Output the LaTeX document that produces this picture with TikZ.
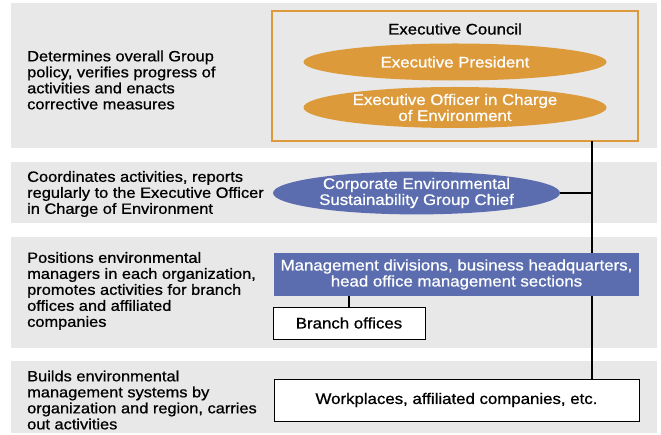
\documentclass[tikz,border=0pt]{standalone}
\usepackage{fontspec}
\setmainfont{Liberation Sans}[FakeBold=0.8, FakeStretch=1.1]
\usetikzlibrary{shapes.geometric}
\definecolor{bandgray}{HTML}{E8E8E8}
\definecolor{orng}{HTML}{DC9A3A}
\definecolor{blu}{HTML}{5B6DAE}
\tikzset{
  band/.style={fill=bandgray, draw=none},
  lefttext/.style={anchor=west, align=left, inner sep=0pt, font=\fontsize{14.9}{16}\selectfont},
  txt/.style={font=\fontsize{15.3}{16}\selectfont},
  oval/.style={ellipse, inner sep=0pt, text=white, align=center, txt},
  whitebox/.style={draw=black, line width=0.8pt, fill=white, inner sep=0pt, txt},
  conn/.style={line width=1.6pt, black}
}
\begin{document}
\begin{tikzpicture}[x=1pt,y=-1pt]
\useasboundingbox (0,0) rectangle (661,435);
% bands
\fill[band] (11,3) rectangle (657,148);
\fill[band] (11,162) rectangle (657,223);
\fill[band] (11,237) rectangle (657,348);
\fill[band] (11,361) rectangle (657,433);
% left texts
\node[lefttext] (t1) at (27,80) {Determines overall Group\\policy, verifies progress of\\activities and enacts\\corrective measures};
\node[lefttext] (t2) at (27,194) {Coordinates activities, reports\\regularly to the Executive Officer\\in Charge of Environment};
\node[lefttext] (t3) at (27,291) {Positions environmental\\managers in each organization,\\promotes activities for branch\\offices and affiliated\\companies};
\node[lefttext] (t4) at (27,400) {Builds environmental\\management systems by\\organization and region, carries\\out activities};
% executive council box
\node[draw=orng, line width=1.2pt, minimum width=366pt, minimum height=130pt, inner sep=0pt] (council) at (455,76) {};
\node[txt] (ctitle) at (455,29) {Executive Council};
\node[oval, fill=orng, minimum width=303pt, minimum height=37pt] (pres) at (455,62) {Executive President};
\node[oval, fill=orng, minimum width=303pt, minimum height=41pt] (eo) at (455,107.5) {Executive Officer in Charge\\of Environment};
% blue ellipse
\node[oval, fill=blu, minimum width=287pt, minimum height=40pt] (chief) at (416.5,193) {Corporate Environmental\\Sustainability Group Chief};
% management divisions
\node[fill=blu, text=white, align=center, inner sep=0pt, minimum width=365pt, minimum height=43pt, txt] (mgmt) at (456.5,274.5) {Management divisions, business headquarters,\\head office management sections};
\node[whitebox, minimum width=152pt, minimum height=32pt] (branch) at (349,323) {Branch offices};
\node[whitebox, minimum width=365pt, minimum height=42pt] (work) at (456.5,400) {Workplaces, affiliated companies, etc.};
% connectors
\coordinate (top) at (592,141);
\coordinate (jc) at (592,193);
\draw[conn] (top) -- (592,253);
\draw[conn] (592,296) -- (592,379);
\draw[conn] (chief.east) -- (jc);
\draw[conn] (349,296) -- (branch.north);
\end{tikzpicture}
\end{document}
